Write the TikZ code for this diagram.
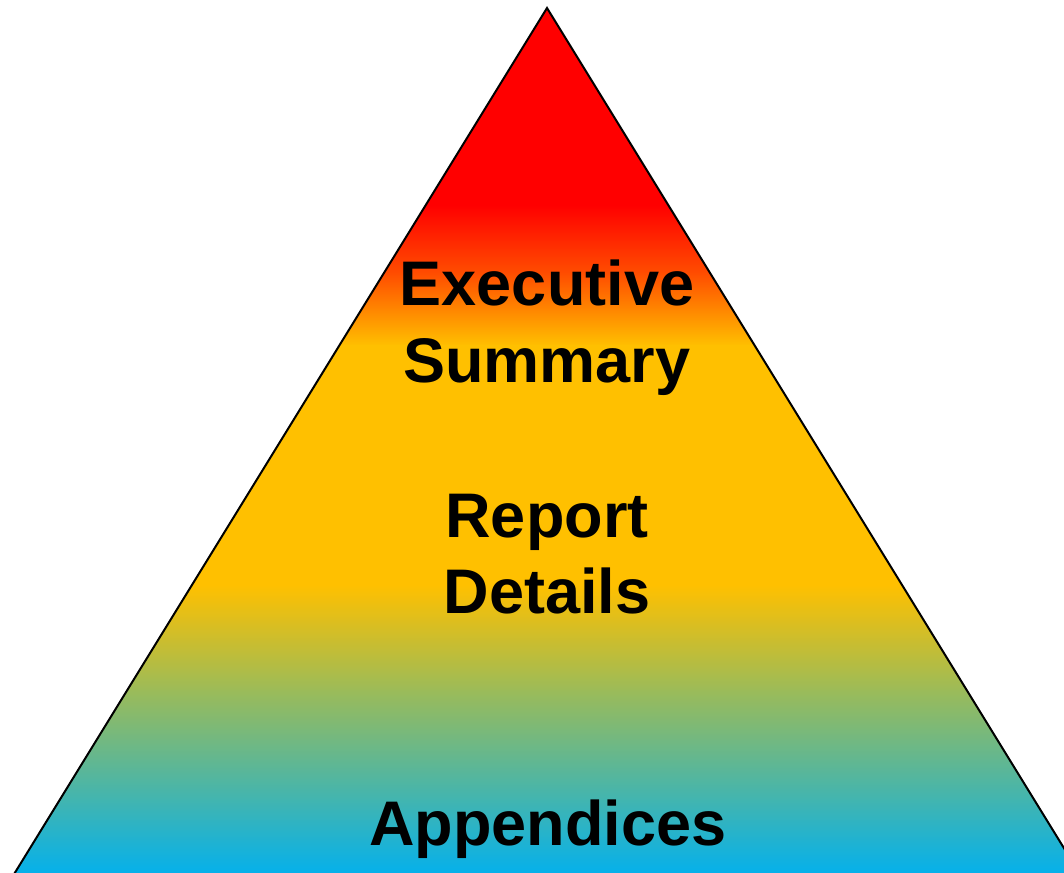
\documentclass[tikz,border=0pt]{standalone}
\usepackage{fontspec}
\setmainfont{Liberation Sans}
\definecolor{topred}{HTML}{FF0000}
\definecolor{midorange}{HTML}{FF5000}
\definecolor{gold}{HTML}{FFC000}
\definecolor{olive}{HTML}{9BBB59}
\definecolor{sky}{HTML}{00B0F0}
\begin{document}
\begin{tikzpicture}[x=0.75pt,y=-0.75pt,
  tiertext/.style={font=\bfseries\fontsize{47.25}{57}\selectfont, anchor=base, inner sep=0pt, text=black},
  band/.style={shading=axis, draw=none}]
\useasboundingbox (0,0) rectangle (1064,873);
\clip (0,0) rectangle (1064,873);
\coordinate (apex) at (547,8);
\coordinate (bl) at (13.5,875);
\coordinate (br) at (1080.5,875);
% colour bands of the pyramid
\begin{scope}
  \clip (apex) -- (bl) -- (br) -- cycle;
  \fill[topred] (0,0) rectangle (1100,206);
  \shade[band, top color=topred, bottom color=midorange] (0,205) rectangle (1100,276);
  \shade[band, top color=midorange, bottom color=gold] (0,275) rectangle (1100,346);
  \fill[gold] (0,345) rectangle (1100,586);
  \shade[band, top color=gold, bottom color=olive] (0,585) rectangle (1100,691);
  \shade[band, top color=olive, bottom color=sky] (0,690) rectangle (1100,880);
\end{scope}
% outline of the two slanted sides
\draw[line width=1.5pt, line join=miter] (bl) -- (apex) -- (br);
% tier labels
\node[tiertext] (exec) at (547,306) {Executive};
\node[tiertext] (summ) at (547,383) {Summary};
\node[tiertext] (rep) at (547,537) {Report};
\node[tiertext] (det) at (547,613) {Details};
\node[tiertext] (app) at (548,845) {Appendices};
\end{tikzpicture}
\end{document}
